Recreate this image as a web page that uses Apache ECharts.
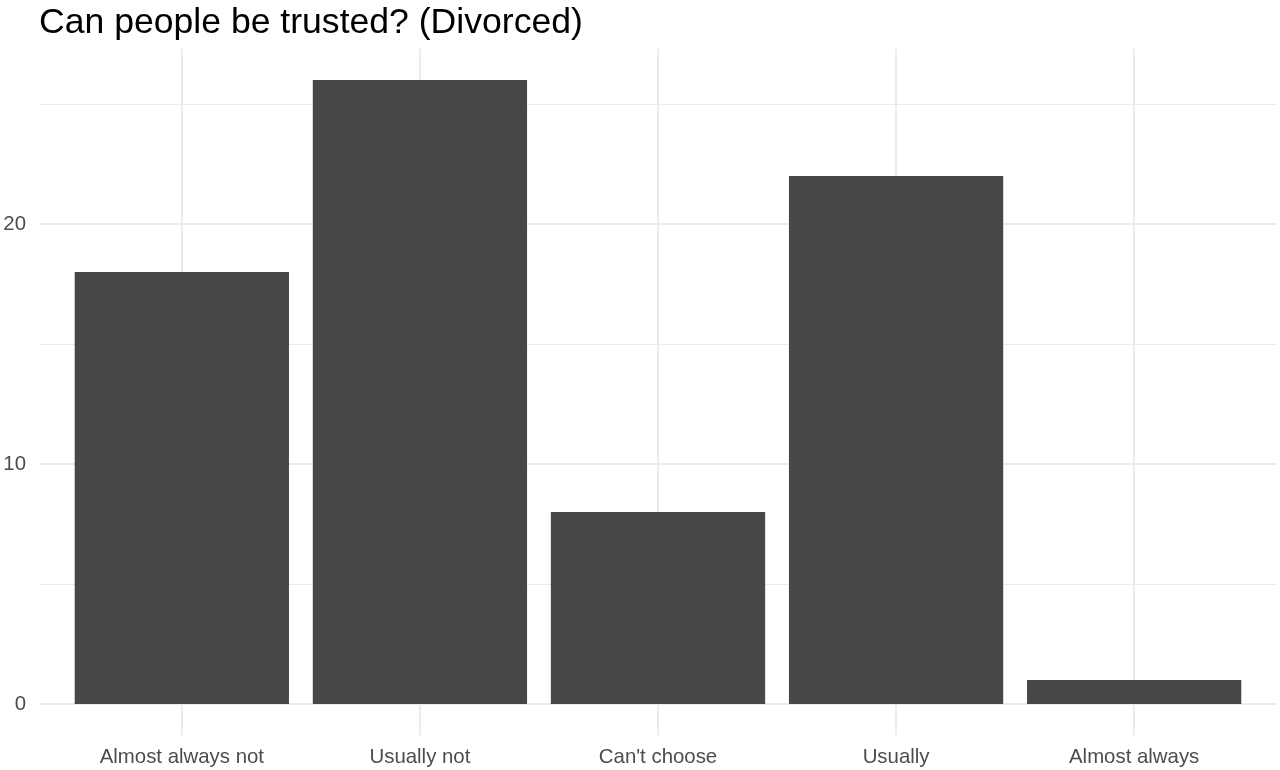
<!DOCTYPE html>
<html lang="en">
<head>
    <meta charset="UTF-8">
    <title>Can people be trusted? (Divorced)</title>
    <script src="https://cdn.jsdelivr.net/npm/echarts@6.0.0/dist/echarts.min.js"></script>
    <style>
        html, body { margin: 0; padding: 0; background: #ffffff; }
        #chart { width: 1280px; height: 770px; }
    </style>
</head>
<body>
    <div id="chart"></div>
    <script>
        // 数据
        const categories = ['Almost always not', 'Usually not', "Can't choose", 'Usually', 'Almost always'];
        const counts = [18, 26, 8, 22, 1];
        const yTicks = [0, 10, 20];
        const yMinorLines = [5, 15, 25];

        const gridColor = '#ebebeb';
        const positions = categories.map((c, i) => i);

        // 网格线 (ggplot 风格)
        const gridLines = []
            .concat(positions.map(i => ({ xAxis: i, lineStyle: { color: gridColor, width: 2, type: 'solid' } })))
            .concat(yTicks.map(v => ({ yAxis: v, lineStyle: { color: gridColor, width: 2, type: 'solid' } })))
            .concat(yMinorLines.map(v => ({ yAxis: v, lineStyle: { color: gridColor, width: 1.1, type: 'solid' } })));

        const chart = echarts.init(document.getElementById('chart'));
        const option = {
            animation: false,
            backgroundColor: '#ffffff',
            title: {
                text: 'Can people be trusted? (Divorced)',
                left: 34,
                top: 0,
                textStyle: {
                    fontFamily: 'Liberation Sans',
                    fontSize: 35.6,
                    fontWeight: 'normal',
                    color: '#000000'
                }
            },
            grid: {
                left: 39,
                right: 3,
                top: 48.8,
                bottom: 34.8,
                containLabel: false
            },
            xAxis: {
                type: 'value',
                min: -0.6,
                max: 4.6,
                axisLine: { show: false },
                axisTick: { show: false },
                splitLine: { show: false },
                axisLabel: {
                    customValues: positions,
                    formatter: v => categories[Math.round(v)] || '',
                    margin: 12,
                    fontFamily: 'Liberation Sans',
                    fontSize: 20.4,
                    color: '#4d4d4d'
                }
            },
            yAxis: {
                type: 'value',
                min: -1.3,
                max: 27.3,
                axisLine: { show: false },
                axisTick: { show: false },
                splitLine: { show: false },
                axisLabel: {
                    customValues: yTicks,
                    margin: 13,
                    fontFamily: 'Liberation Sans',
                    fontSize: 20.4,
                    color: '#4d4d4d'
                }
            },
            series: [
                {
                    type: 'bar',
                    z: 2,
                    barWidth: '90%',
                    itemStyle: { color: '#474747' },
                    data: counts.map((v, i) => [i, v]),
                    markLine: {
                        silent: true,
                        z: 1,
                        symbol: 'none',
                        label: { show: false },
                        emphasis: { disabled: true },
                        data: gridLines
                    }
                }
            ]
        };
        chart.setOption(option);
    </script>
</body>
</html>
